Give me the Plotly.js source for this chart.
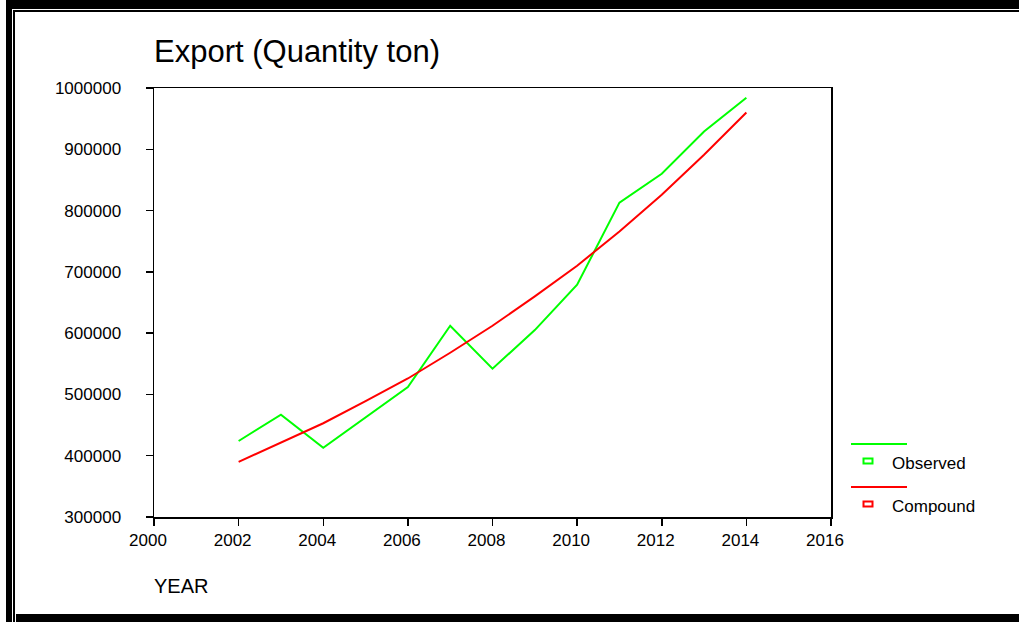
<!DOCTYPE html>
<html>
<head>
<meta charset="utf-8">
<script src="https://cdn.plot.ly/plotly-3.0.1.min.js"></script>
<style>html,body{margin:0;padding:0;background:#fff;}#chart{width:1019px;height:622px;}</style>
</head>
<body>
<div id="chart"></div>
<script>
// ---- data ----
const years = [2002, 2003, 2004, 2005, 2006, 2007, 2008, 2009, 2010, 2011, 2012, 2013, 2014];
const observed = [424000, 467000, 413000, 462000, 512000, 612000, 542000, 605000, 679000, 813000, 860000, 929000, 984000];
const compound = [390000, 421000, 453000, 489000, 526000, 568000, 612000, 660000, 710000, 766000, 826000, 891000, 960000];
const seriesNames = ["Observed", "Compound"];
const titleText = "Export (Quantity ton)";
const xTitle = "YEAR";
const xTicks = [2000, 2002, 2004, 2006, 2008, 2010, 2012, 2014, 2016];
const yTicks = [300000, 400000, 500000, 600000, 700000, 800000, 900000, 1000000];

// ---- geometry helpers (pixel -> paper) ----
const Wd = 1019, Ht = 622;
const ML = 154, MR = 188, MT = 88, MB = 105;
const PW = Wd - ML - MR, PH = Ht - MT - MB;
const PX = x => (x - ML) / PW;
const PY = y => (Ht - MB - y) / PH;
const FONT = "Liberation Sans, Arial, sans-serif";

function rect(x0, y0, x1, y1, color) {
  return {type: 'rect', xref: 'paper', yref: 'paper', x0: PX(x0), x1: PX(x1), y0: PY(y1), y1: PY(y0),
          fillcolor: color, line: {width: 0}, layer: 'above'};
}
function seg(x0, y0, x1, y1, color, w) {
  return {type: 'line', xref: 'paper', yref: 'paper', x0: PX(x0), x1: PX(x1), y0: PY(y0), y1: PY(y1),
          line: {color: color, width: w}};
}
function box(cx, cy, color) {
  return {type: 'rect', xref: 'paper', yref: 'paper', x0: PX(cx - 4.5), x1: PX(cx + 4.5), y0: PY(cy + 2.5), y1: PY(cy - 2.5),
          fillcolor: 'rgba(0,0,0,0)', line: {color: color, width: 2}};
}

const traces = [
  {x: years, y: observed, name: seriesNames[0], type: 'scatter', mode: 'lines',
   line: {color: '#00ff00', width: 2}},
  {x: years, y: compound, name: seriesNames[1], type: 'scatter', mode: 'lines',
   line: {color: '#ff0000', width: 2}}
];

const layout = {
  width: Wd, height: Ht,
  margin: {l: ML, r: MR, t: MT, b: MB, pad: 0},
  paper_bgcolor: '#ffffff', plot_bgcolor: '#ffffff',
  font: {family: FONT, size: 17, color: '#000'},
  showlegend: false,
  title: {text: titleText, font: {family: FONT, size: 31, color: '#000'},
          xref: 'paper', x: PX(154), xanchor: 'left', yref: 'container', y: 1 - 51 / Ht, yanchor: 'middle'},
  xaxis: {range: [2000, 2016], tickvals: xTicks, ticktext: xTicks.map(String),
          showgrid: false, zeroline: false, showline: true, linecolor: '#000', linewidth: 1.5, mirror: true,
          ticks: 'outside', ticklen: 7, tickwidth: 1.5, tickcolor: '#000', ticklabelshift: -6,
          tickfont: {family: FONT, size: 17, color: '#000'}},
  yaxis: {range: [300000, 1000000], tickvals: yTicks, ticktext: yTicks.map(String),
          showgrid: false, zeroline: false, showline: true, linecolor: '#000', linewidth: 1.5, mirror: true,
          ticks: 'outside', ticklen: 7, tickwidth: 1.5, tickcolor: '#000', ticklabelstandoff: 21,
          tickfont: {family: FONT, size: 17, color: '#000'}},
  annotations: [
    {text: xTitle, xref: 'paper', yref: 'paper', x: PX(152), y: PY(586), xanchor: 'left', yanchor: 'middle',
     showarrow: false, font: {family: FONT, size: 20, color: '#000'}},
    {text: seriesNames[0], xref: 'paper', yref: 'paper', x: PX(890), y: PY(463), xanchor: 'left', yanchor: 'middle',
     showarrow: false, font: {family: FONT, size: 17, color: '#000'}},
    {text: seriesNames[1], xref: 'paper', yref: 'paper', x: PX(890), y: PY(506), xanchor: 'left', yanchor: 'middle',
     showarrow: false, font: {family: FONT, size: 17, color: '#000'}}
  ],
  shapes: [
    // outer frame
    rect(6, 0, Wd, 9, '#000'),
    rect(13, 10, Wd, 12, '#000'),
    rect(6, 0, 12, Ht, '#000'),
    rect(13, 10, 15, Ht, '#000'),
    rect(16, 614, Wd, Ht, '#000'),
    // legend
    seg(851, 444, 907, 444, '#00ff00', 2),
    box(868, 461, '#00ff00'),
    seg(851, 487, 907, 487, '#ff0000', 2),
    box(868, 504, '#ff0000')
  ]
};

Plotly.newPlot('chart', traces, layout, {displayModeBar: false, staticPlot: true});
</script>
</body>
</html>
